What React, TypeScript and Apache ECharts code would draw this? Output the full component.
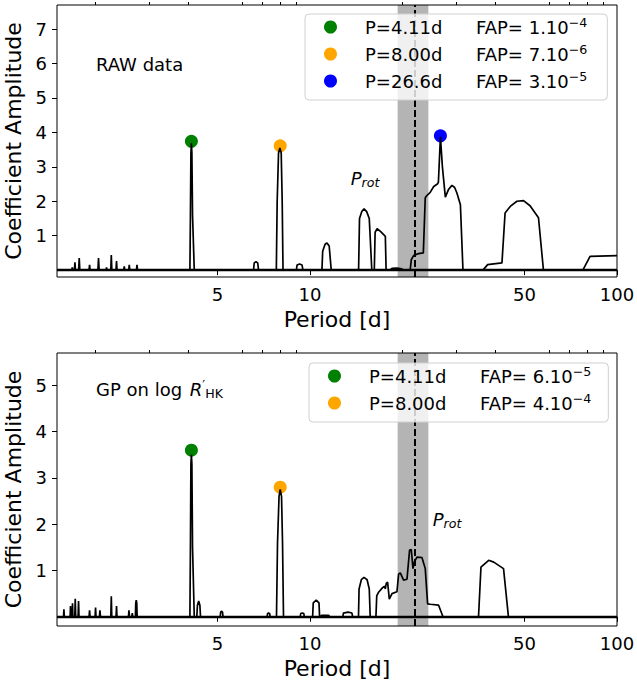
import { useEffect, useRef } from "react";
import * as echarts from "echarts";

// periodogram of the raw data: [period (d), coefficient amplitude]
const rawCurve: [number, number][] = [
  [1.5, 0],
  [1.675, 0], [1.682, 0.08], [1.689, 0],
  [1.709, 0], [1.716, 0.23], [1.723, 0],
  [1.764, 0], [1.772, 0.35], [1.78, 0],
  [1.907, 0], [1.915, 0.15], [1.923, 0],
  [2.039, 0], [2.048, 0.35], [2.057, 0],
  [2.167, 0], [2.175, 0.08], [2.184, 0],
  [2.245, 0], [2.254, 0.44], [2.263, 0],
  [2.335, 0], [2.344, 0.26], [2.353, 0],
  [2.474, 0], [2.484, 0.11], [2.494, 0],
  [2.569, 0], [2.579, 0.15], [2.589, 0],
  [2.722, 0], [2.733, 0.15], [2.744, 0],
  [4.064, 0], [4.08, 1.6], [4.095, 3.4], [4.11, 3.68], [4.125, 3.4], [4.145, 1.6], [4.199, 0],
  [6.55, 0], [6.58, 0.2], [6.67, 0.25], [6.76, 0.2], [6.8, 0],
  [7.77, 0], [7.82, 2.0], [7.9, 3.4], [7.98, 3.55], [8.06, 3.4], [8.12, 2.0], [8.17, 0],
  [9.03, 0], [9.08, 0.15], [9.25, 0.18], [9.42, 0.15], [9.49, 0],
  [10.94, 0], [11.0, 0.55], [11.2, 0.75], [11.36, 0.79], [11.55, 0.7], [11.73, 0],
  [14.4, 0], [14.5, 1.5], [14.75, 1.7], [15.0, 1.78], [15.3, 1.7], [15.6, 1.5], [15.9, 0],
  [16.2, 0], [16.3, 1.1], [16.55, 1.2], [17.0, 1.12], [17.6, 0.98], [17.7, 0],
  [18.2, 0], [18.5, 0.05], [19.2, 0.06], [19.9, 0.04], [20.0, 0],
  [21.2, 0], [21.38, 0.3], [21.75, 0.42], [22.58, 0.48], [23.4, 0.5],
  [23.74, 2.1], [24.0, 2.16], [24.6, 2.25], [25.3, 2.43], [26.0, 2.5], [26.2, 2.55],
  [26.6, 3.87], [27.0, 3.0], [27.6, 2.12], [28.3, 2.35], [29.0, 2.46], [29.6, 2.4],
  [30.1, 2.24], [30.9, 1.9], [31.5, 0],
  [36.6, 0], [37.9, 0.16], [42.2, 0.21], [43.2, 1.66], [44.9, 1.85], [47.2, 2.0],
  [49.6, 2.02], [52.1, 1.87], [55.5, 1.52], [57.6, 0],
  [77.4, 0], [81.7, 0.4], [100, 0.42],
];

// periodogram of the GP on log R'HK
const gpCurve: [number, number][] = [
  [1.5, 0],
  [1.575, 0], [1.58, 0.16], [1.585, 0],
  [1.655, 0], [1.66, 0.23], [1.665, 0],
  [1.68, 0], [1.685, 0.29], [1.69, 0],
  [1.714, 0], [1.72, 0.39], [1.726, 0],
  [1.757, 0], [1.763, 0.34], [1.769, 0],
  [1.908, 0], [1.915, 0.14], [1.922, 0],
  [1.996, 0], [2.003, 0.2], [2.01, 0],
  [2.062, 0], [2.07, 0.14], [2.078, 0],
  [2.246, 0], [2.254, 0.44], [2.262, 0],
  [2.336, 0], [2.344, 0.23], [2.352, 0],
  [2.563, 0], [2.573, 0.14], [2.583, 0],
  [2.628, 0], [2.638, 0.08], [2.648, 0],
  [2.7, 0], [2.708, 0.3], [2.718, 0.36], [2.728, 0.3], [2.736, 0],
  [4.064, 0], [4.08, 1.5], [4.095, 3.3], [4.11, 3.5], [4.125, 3.3], [4.145, 1.5], [4.199, 0],
  [4.28, 0], [4.3, 0.25], [4.34, 0.34], [4.38, 0.25], [4.4, 0],
  [5.1, 0], [5.12, 0.1], [5.15, 0.12], [5.19, 0.1], [5.21, 0],
  [7.25, 0], [7.28, 0.07], [7.33, 0.08], [7.39, 0.07], [7.42, 0],
  [7.78, 0], [7.84, 1.6], [7.93, 2.6], [8.0, 2.75], [8.08, 2.6], [8.14, 1.6], [8.2, 0],
  [9.3, 0], [9.33, 0.07], [9.44, 0.08], [9.55, 0.07], [9.58, 0],
  [10.2, 0], [10.25, 0.3], [10.48, 0.36], [10.7, 0.3], [10.75, 0],
  [10.85, 0], [10.9, 0.03], [11.5, 0.03], [11.6, 0],
  [12.8, 0], [12.85, 0.08], [13.3, 0.1], [13.7, 0.08], [13.77, 0],
  [14.39, 0], [14.45, 0.6], [14.7, 0.8], [15.0, 0.85], [15.35, 0.8], [15.6, 0.6], [15.71, 0],
  [16.4, 0], [16.5, 0.45], [16.73, 0.53], [17.24, 0.63], [17.5, 0.66], [17.6, 0.6],
  [17.72, 0.72], [17.9, 0.75], [18.13, 0.38], [18.5, 0.5], [19.2, 0.54], [19.44, 0.92],
  [19.69, 0.95], [20.18, 0.79], [20.7, 0.81], [21.11, 1.44], [21.38, 1.45], [21.65, 1.04],
  [21.86, 1.18], [22.31, 1.29], [23.16, 1.28], [23.74, 1.04], [24.16, 0.28], [24.65, 0.27],
  [26.24, 0.25], [27.12, 0],
  [35.4, 0], [36.05, 1.07], [38.2, 1.22], [39.68, 1.18], [42.7, 1.04], [44.3, 0],
  [100, 0],
];

const rawPeakLabels = ["P=4.11d", "P=8.00d", "P=26.6d"];
const rawPeakPeriods = [4.11, 8.0, 26.6];
const rawPeakAmps = [3.74, 3.61, 3.9];
const rawFap = ["1.10", "7.10", "3.10"];
const rawFapExp = ["−4", "−6", "−5"];

const gpPeakLabels = ["P=4.11d", "P=8.00d"];
const gpPeakPeriods = [4.11, 8.0];
const gpPeakAmps = [3.6, 2.8];
const gpFap = ["6.10", "4.10"];
const gpFapExp = ["−5", "−4"];

const protPeriod = 21.9;
const protBand = [19.3, 24.3];

const periodRange = [1.5, 100];
const majorTicks = [5, 10, 50, 100];
const minorTicks = [2, 3, 4, 6, 7, 8, 9, 20, 30, 40, 60, 70, 80, 90];
const rawYTicks = [1, 2, 3, 4, 5, 6, 7];
const gpYTicks = [1, 2, 3, 4, 5];

const peakColors = ["#008000", "#ffa500", "#0000ff"];
const FONT = "DejaVu Sans";
const lg = Math.log10;

function xAxesFor(gridIndex: number) {
  const common = {
    gridIndex,
    type: "value" as const,
    min: lg(periodRange[0]),
    max: lg(periodRange[1]),
    splitLine: { show: false },
    axisLine: { show: false },
  };
  return [
    {
      ...common,
      name: "Period [d]",
      nameLocation: "middle",
      nameGap: 31,
      nameTextStyle: { fontSize: 22, color: "#000", fontFamily: FONT },
      axisTick: {
        show: true,
        length: 5,
        customValues: majorTicks.map(lg),
        lineStyle: { color: "#000", width: 1 },
      },
      axisLabel: {
        customValues: majorTicks.map(lg),
        formatter: (v: number) => String(Math.round(Math.pow(10, v))),
        fontSize: 18,
        color: "#000",
        fontFamily: FONT,
        margin: 8,
      },
    },
    {
      ...common,
      axisTick: {
        show: true,
        length: 3,
        customValues: minorTicks.map(lg),
        lineStyle: { color: "#000", width: 1 },
      },
      axisLabel: { show: false },
    },
  ];
}

function yAxisFor(gridIndex: number, max: number, ticks: number[]) {
  return {
    gridIndex,
    type: "value",
    min: -0.2,
    max,
    name: "Coefficient Amplitude",
    nameLocation: "middle",
    nameGap: 24,
    nameTextStyle: { fontSize: 22, color: "#000", fontFamily: FONT },
    splitLine: { show: false },
    axisLine: { show: false },
    axisTick: { show: true, length: 5, customValues: ticks, lineStyle: { color: "#000", width: 1 } },
    axisLabel: { customValues: ticks, fontSize: 18, color: "#000", fontFamily: FONT, margin: 10 },
  };
}

function curveSeries(curve: [number, number][], xAxisIndex: number, yAxisIndex: number) {
  return {
    type: "line",
    xAxisIndex,
    yAxisIndex,
    data: curve.map(([p, a]) => [lg(p), a]),
    showSymbol: false,
    z: 4,
    lineStyle: { color: "#000", width: 1.7 },
    markArea: {
      silent: true,
      itemStyle: { color: "#b4b4b4", opacity: 1 },
      data: [[{ xAxis: lg(protBand[0]) }, { xAxis: lg(protBand[1]) }]],
    },
    markLine: {
      silent: true,
      symbol: ["none", "none"],
      label: { show: false },
      data: [
        { xAxis: lg(protPeriod), lineStyle: { color: "#000", width: 2, type: [7, 3] } },
        { yAxis: 0, lineStyle: { color: "#000", width: 2.4, type: "solid" } },
      ],
    },
  };
}

function peakSeries(labels: string[], periods: number[], amps: number[], xAxisIndex: number, yAxisIndex: number) {
  return labels.map((name, i) => ({
    type: "scatter",
    name,
    xAxisIndex,
    yAxisIndex,
    symbolSize: 13,
    z: 3,
    itemStyle: { color: peakColors[i], opacity: 1 },
    data: [[lg(periods[i]), amps[i]]],
  }));
}

function legendFor(labels: string[], fap: string[], exps: string[], left: number, top: number, padRight: number) {
  return {
    left,
    top,
    z: 20,
    orient: "vertical",
    selectedMode: false,
    data: labels,
    icon: "circle",
    itemWidth: 13,
    itemHeight: 13,
    itemGap: 7,
    padding: [2, padRight, 10, 19],
    backgroundColor: "rgba(255,255,255,0.8)",
    borderColor: "#d0d0d0",
    borderWidth: 1,
    borderRadius: 4,
    formatter: (name: string) => {
      const i = labels.indexOf(name);
      return `{g| }{a|${name}}{b|FAP= ${fap[i]}}{s|${exps[i]}}`;
    },
    textStyle: {
      color: "#000",
      fontFamily: FONT,
      fontSize: 18,
      rich: {
        g: { width: 23, fontSize: 18, lineHeight: 22 },
        a: { width: 111, fontSize: 18, lineHeight: 22, fontFamily: FONT, color: "#000" },
        b: { fontSize: 18, lineHeight: 22, fontFamily: FONT, color: "#000" },
        s: { fontSize: 12.6, lineHeight: 10, verticalAlign: "top", fontFamily: FONT, color: "#000" },
      },
    },
  };
}

function protLabel(x: number, y: number) {
  return {
    type: "text",
    x,
    y,
    z: 10,
    style: {
      text: "{p|P}{r|rot}",
      verticalAlign: "middle",
      rich: {
        p: { fontSize: 18, fontStyle: "italic", fontFamily: FONT, lineHeight: 22, fill: "#000" },
        r: { fontSize: 12.6, fontStyle: "italic", fontFamily: FONT, lineHeight: 10.6, verticalAlign: "bottom", fill: "#000" },
      },
    },
  };
}

function buildOption() {
  const gridBase = {
    left: 57,
    right: 20,
    show: true,
    z: 10,
    borderColor: "#000",
    borderWidth: 1,
    backgroundColor: "transparent",
    outerBoundsMode: "none",
    containLabel: false,
  };
  return {
    animation: false,
    textStyle: { fontFamily: FONT },
    grid: [
      { ...gridBase, top: 5, height: 272 },
      { ...gridBase, top: 353, height: 273 },
    ],
    xAxis: [...xAxesFor(0), ...xAxesFor(1)],
    yAxis: [yAxisFor(0, 7.7, rawYTicks), yAxisFor(1, 5.7, gpYTicks)],
    legend: [
      legendFor(rawPeakLabels, rawFap, rawFapExp, 305, 14, 20),
      legendFor(gpPeakLabels, gpFap, gpFapExp, 309, 363, 17),
    ],
    series: [
      curveSeries(rawCurve, 0, 0),
      ...peakSeries(rawPeakLabels, rawPeakPeriods, rawPeakAmps, 0, 0),
      curveSeries(gpCurve, 2, 1),
      ...peakSeries(gpPeakLabels, gpPeakPeriods, gpPeakAmps, 2, 1),
    ],
    graphic: [
      {
        type: "text",
        x: 96,
        y: 64,
        style: { text: "RAW data", fontSize: 18, fontFamily: FONT, fill: "#000", verticalAlign: "middle" },
      },
      {
        type: "text",
        x: 96,
        y: 389,
        style: {
          text: "{n|GP on log }{i|R}{q|′}{h|HK}",
          verticalAlign: "middle",
          rich: {
            n: { fontSize: 18, fontFamily: FONT, lineHeight: 22, fill: "#000" },
            i: { fontSize: 18, fontStyle: "italic", fontFamily: FONT, lineHeight: 22, fill: "#000", padding: [0, 0, 0, 2] },
            q: { fontSize: 12.6, fontFamily: FONT, lineHeight: 12, verticalAlign: "top", fill: "#000" },
            h: { fontSize: 12.6, fontFamily: FONT, lineHeight: 9, verticalAlign: "bottom", fill: "#000" },
          },
        },
      },
      protLabel(350.7, 178.3),
      protLabel(432.7, 519),
    ],
  };
}

export default function App() {
  const ref = useRef<HTMLDivElement | null>(null);

  useEffect(() => {
    if (!ref.current) return;
    const chart = echarts.init(ref.current, null, { renderer: "svg" });
    chart.setOption(buildOption() as any);
    return () => chart.dispose();
  }, []);

  return <div ref={ref} style={{ position: "absolute", left: 0, top: 0, width: 637, height: 684 }} />;
}
